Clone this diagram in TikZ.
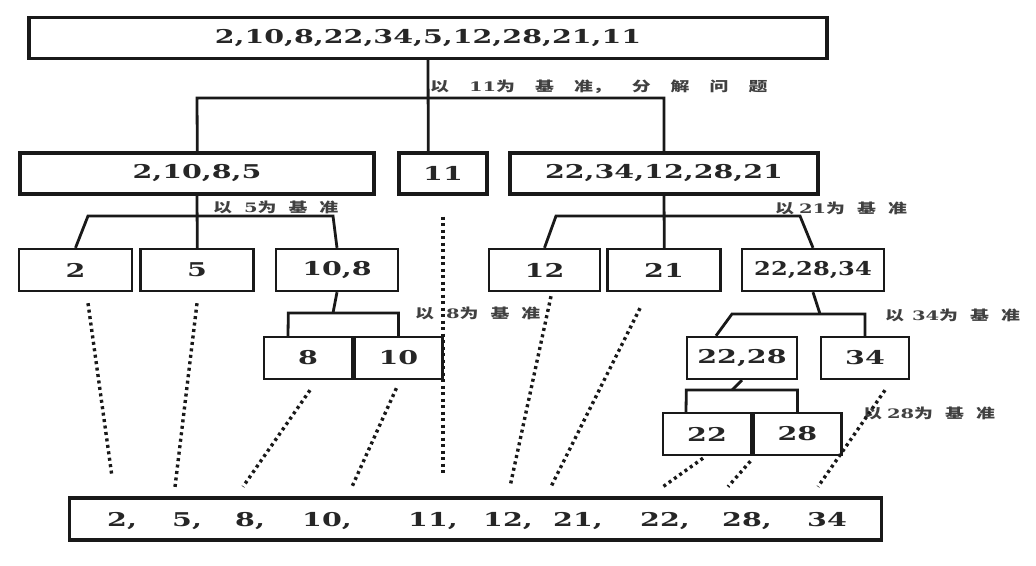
\documentclass[tikz,border=0pt]{standalone}
\usepackage{fontspec}
\setmainfont{DejaVu Serif}[FakeStretch=1.5]
\newfontfamily\cjk{Noto Sans CJK SC}[FakeStretch=1.4]
\usetikzlibrary{positioning}
\newcommand{\numfont}{\bfseries\fontsize{19}{22}\selectfont}
\newcommand{\notefont}{\cjk\bfseries\fontsize{13.5}{16}\selectfont}
\newcommand{\lnum}[1]{{\rmfamily\bfseries\fontsize{13}{16}\selectfont #1}}
\newcommand{\gap}{\hspace{12pt}}
\newcommand{\wgap}{\hspace{20pt}}
\tikzstyle{bigbox} = [draw=black!90,line width=3.2pt,inner sep=0pt,minimum height=41pt,text=black!85,font=\numfont]
\tikzstyle{box} = [draw=black!90,line width=2.4pt,inner sep=0pt,minimum height=42pt,text=black!85,font=\numfont]
\tikzstyle{link} = [draw=black!90,line width=2.8pt]
\tikzstyle{dots} = [draw=black!90,line width=3.4pt,dash pattern=on 3pt off 3.5pt]
\tikzstyle{note} = [anchor=west,inner sep=0pt,text=black!75,font=\notefont]
\tikzstyle{num} = [anchor=base west,inner sep=0pt,text=black!85,font=\numfont]

\begin{document}
\begin{tikzpicture}[x=1pt,y=-1pt]
    \fill [white] (0,0) rectangle (1036,565);
    \useasboundingbox (0,0) rectangle (1036,565);
    % whole list
    \node [bigbox,minimum width=798pt] (all) at (428,38) {2,10,8,22,34,5,12,28,21,11};
    % split by 11
    \node [bigbox,minimum width=354pt] (lpart) at (197,173.5) {2,10,8,5};
    \node [bigbox,minimum width=88pt] (pivot) at (443,173.5) {11};
    \node [bigbox,minimum width=308pt] (rpart) at (664,173.5) {22,34,12,28,21};
    \coordinate (s1) at (428,98);
    \draw [link] (all.south) -- ([xshift=0.3pt]all.south |- pivot.north);
    \draw [link] ([xshift=0.3pt]lpart.north) -- (lpart.north |- s1) -| (rpart.north);
    \node [note] (n1) at (430,87) {以\wgap\lnum{11}为\wgap 基\wgap 准，\wgap 分\wgap 解\wgap 问\wgap 题};
    % split by 5
    \node [box,minimum width=113pt] (p2) at (75.5,270) {2};
    \node [box,minimum width=113pt] (p5) at (197,270) {5};
    \node [box,minimum width=122pt] (p108) at (337,270) {10,8};
    \coordinate (l2) at (88,216);
    \coordinate (r2) at (333,216);
    \draw [link] (lpart.south) -- ([xshift=0.3pt]p5.north);
    \draw [link] (p2.north) -- (l2) -- (r2) -- (p108.north);
    \node [note] (n2) at (213,207) {以\gap\lnum{5}为\gap 基\gap 准};
    % split by 21
    \node [box,minimum width=111pt] (p12) at (544.5,270) {12};
    \node [box,minimum width=113pt] (p21) at (664,270) {21};
    \node [box,minimum width=142pt] (p222834) at (813,270) {\addfontfeature{FakeStretch=1.27}22,28,34};
    \coordinate (l3) at (556,216);
    \coordinate (r3) at (800,216);
    \draw [link] (rpart.south) -- ([xshift=0.3pt]p21.north);
    \draw [link] (p12.north) -- (l3) -- (r3) -- (p222834.north);
    \node [note] (n3) at (775,208) {以\hspace{5pt}\lnum{21}为\gap 基\gap 准};
    % split by 8
    \node [box,minimum width=88pt] (q8) at (308,358) {8};
    \node [box,minimum width=88pt,right=0pt of q8] (q10) {10};
    \coordinate (j4) at (333,313);
    \draw [link] (p108.south) -- (j4);
    \draw [link] ([xshift=-20pt]q8.north) -- ([xshift=-19.7pt]q8.north |- j4) -| (q10.north);
    \node [note] (n4) at (415,313) {以\gap\lnum{8}为\gap 基\gap 准};
    % split by 34
    \node [box,minimum width=110pt] (q2228) at (742,358) {22,28};
    \node [box,minimum width=88pt] (q34) at (865,358) {34};
    \coordinate (j5) at (820,314);
    \coordinate (l5) at (732,314);
    \draw [link] (p222834.south) -- (j5);
    \draw [link] ([xshift=-26pt]q2228.north) -- (l5) -| (q34.north);
    \node [note] (n5) at (885,315) {以\hspace{8pt}\lnum{34}为\gap 基\gap 准};
    % split by 28
    \node [box,minimum width=88pt] (w22) at (707,434) {22};
    \node [box,minimum width=88pt,right=0pt of w22] (w28) {28};
    \coordinate (j6) at (732,390);
    \draw [link] (q2228.south) -- (j6);
    \draw [link] ([xshift=-21pt]w22.north) -- ([xshift=-20.7pt]w22.north |- j6) -| (w28.north);
    \node [note] (n6) at (863,413) {以\hspace{5pt}\lnum{28}为\gap 基\gap 准};
    % sorted result
    \node [bigbox,minimum width=812pt,minimum height=42pt] (res) at (475.5,519) {};
    \node [num] (r1) at (107,526) {2,};
    \node [num] (r2) at (172,526) {5,};
    \node [num] (r3) at (235,526) {8,};
    \node [num] (r4) at (302,526) {10,};
    \node [num] (r5) at (408,526) {11,};
    \node [num] (r6) at (483,526) {12,};
    \node [num] (r7) at (553,526) {21,};
    \node [num] (r8) at (640,526) {22,};
    \node [num] (r9) at (722,526) {28,};
    \node [num] (r10) at (807,526) {34};
    % leaves down to the result
    \draw [dots] ([shift={(12.5,11)}]p2.south) -- ([shift={(5,-35)}]r1.north west);
    \draw [dots] ([shift={(0,11)}]p5.south) -- ([shift={(3,-25)}]r2.north west);
    \draw [dots] ([shift={(2,10)}]q8.south) -- ([shift={(8,-25)}]r3.north west);
    \draw [dots] ([shift={(-2,8)}]q10.south) -- ([shift={(50,-25)}]r4.north west);
    \draw [dots] ([shift={(0,21)}]pivot.south) -- ([shift={(35,-37)}]r5.north west);
    \draw [dots] ([shift={(6.5,4)}]p12.south) -- ([shift={(27,-25)}]r6.north west);
    \draw [dots] ([shift={(-24,16)}]p21.south) -- ([shift={(-2,-25)}]r7.north west);
    \draw [dots] ([shift={(-4,2)}]w22.south) -- ([shift={(23,-25)}]r8.north west);
    \draw [dots] ([shift={(-47,5)}]w28.south) -- ([shift={(6,-25)}]r9.north west);
    \draw [dots] ([shift={(20,10)}]q34.south) -- ([shift={(11,-25)}]r10.north west);
\end{tikzpicture}
\end{document}
